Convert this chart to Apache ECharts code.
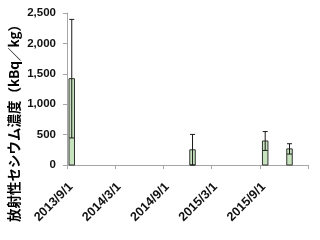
<!DOCTYPE html>
<html><head><meta charset="utf-8">
<script src="https://cdn.jsdelivr.net/npm/echarts@6/dist/echarts.min.js"></script>
<style>html,body{margin:0;padding:0;background:#fff}#c{width:320px;height:240px}</style>
</head><body><div id="c"></div>
<script>
const axisStart = '2013-09-01';
const axisEnd = '2016-03-01';
const tickLabels = ['2013/9/1', '2014/3/1', '2014/9/1', '2015/3/1', '2015/9/1', ''];
const sampleDates = ['2013-09-19', '2014-12-20', '2015-09-21', '2015-12-22'];
const concentration = [1420, 250, 395, 265];
const errorValues = [975, 253, 155, 85];
const yTitle = '放射性セシウム濃度（kBq／kg）';

function dayOf(s){ const p = s.split('-').map(Number); return Date.UTC(p[0], p[1]-1, p[2]) / 86400000; }
const d0 = dayOf(axisStart);
const span = dayOf(axisEnd) - d0;
const step = span / (tickLabels.length - 1);
const data = sampleDates.map((d, i) => [dayOf(d) - d0, concentration[i], errorValues[i]]);

const chart = echarts.init(document.getElementById('c'), null, {renderer: 'canvas'});
chart.setOption({
  animation: false,
  grid: {left: 67, right: 12, top: 13, bottom: 75, outerBoundsMode: 'none', containLabel: false},
  graphic: [{
    type: 'text', x: 14, y: 120, rotation: Math.PI / 2,
    style: {text: yTitle, fontSize: 13.5, fontWeight: 'bold', fill: '#000',
            fontFamily: 'Noto Sans CJK JP', align: 'center', verticalAlign: 'middle'}
  }],
  xAxis: {
    type: 'value', min: 0, max: span, interval: step,
    axisLine: {show: true, lineStyle: {color: '#a6a6a6'}},
    axisTick: {show: true, length: 4, lineStyle: {color: '#a6a6a6'}},
    splitLine: {show: false},
    axisLabel: {
      rotate: 45, fontSize: 12.5, fontWeight: 'bold', color: '#111', fontFamily: 'Liberation Sans, Arial',
      margin: 9, align: 'right', verticalAlign: 'top', padding: [4, 5, 0, 0],
      formatter: v => tickLabels[Math.round(v / step)] || ''
    }
  },
  yAxis: {
    type: 'value', min: 0, max: 2500, interval: 500,
    axisLine: {show: true, lineStyle: {color: '#a6a6a6'}},
    axisTick: {show: true, length: 4, lineStyle: {color: '#a6a6a6'}},
    splitLine: {show: false},
    axisLabel: {
      fontSize: 11.5, fontWeight: 'bold', color: '#111', fontFamily: 'Liberation Sans, Arial', margin: 11,
      formatter: v => v.toLocaleString('en-US')
    }
  },
  series: [{
    type: 'custom',
    data: data,
    encode: {x: 0, y: 1},
    renderItem: function(params, api){
      const x = api.value(0), y = api.value(1), e = api.value(2);
      const base = api.coord([x, 0]);
      const top = api.coord([x, y]);
      const hi = api.coord([x, y + e]);
      const lo = api.coord([x, Math.max(0, y - e)]);
      const w = 5.5, cw = 5;
      return {type: 'group', children: [
        {type: 'rect', shape: {x: top[0] - w/2, y: top[1], width: w, height: base[1] - top[1]},
         style: {fill: '#c6e3bd', stroke: '#333', lineWidth: 1}},
        {type: 'line', shape: {x1: hi[0], y1: hi[1], x2: lo[0], y2: lo[1]}, style: {stroke: '#1a1a1a', lineWidth: 1}},
        {type: 'line', shape: {x1: hi[0] - cw/2, y1: hi[1], x2: hi[0] + cw/2, y2: hi[1]}, style: {stroke: '#1a1a1a', lineWidth: 1}},
        {type: 'line', shape: {x1: lo[0] - cw/2, y1: lo[1], x2: lo[0] + cw/2, y2: lo[1]}, style: {stroke: '#1a1a1a', lineWidth: 1}}
      ]};
    }
  }]
});
</script></body></html>
